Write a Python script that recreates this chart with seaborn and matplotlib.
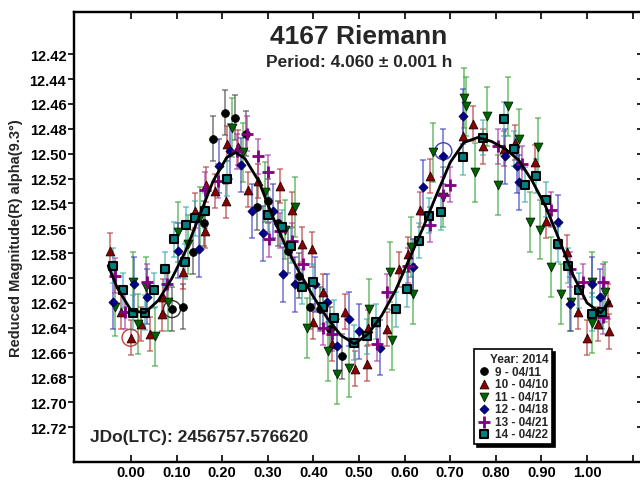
import numpy as np
import pandas as pd
import matplotlib
matplotlib.use("Agg")
import matplotlib.pyplot as plt
import seaborn as sns

sns.set_theme(style="ticks")
plt.rcParams["font.family"] = ["Liberation Sans", "DejaVu Sans"]
plt.rcParams["font.weight"] = "bold"
plt.rcParams["axes.labelweight"] = "bold"

# ---------------- data ----------------
sessions = ["9 - 04/11", "10 - 04/10", "11 - 04/17", "12 - 04/18", "13 - 04/21", "14 - 04/22"]

ph9 = [0.090, 0.113, 0.137, 0.160, 0.180, 0.207, 0.229, 0.253, 0.276, 0.300, 0.322, 0.345, 0.368, 0.393, 0.415, 0.437, 0.463]
mg9 = [12.625, 12.623, 12.579, 12.556, 12.488, 12.467, 12.471, 12.484, 12.543, 12.538, 12.556, 12.578, 12.598, 12.623, 12.625, 12.641, 12.663]

ph10 = [-0.045, -0.023, -0.001, 0.021, 0.042, 0.069, 0.071, 0.115, 0.141, 0.163, 0.165, 0.185, 0.209, 0.211, 0.235, 0.257, 0.279,
        0.327, 0.353, 0.376, 0.398, 0.400, 0.422, 0.441, 0.470, 0.492, 0.518, 0.520, 0.562, 0.587, 0.608, 0.634, 0.656,
        0.727, 0.749, 0.771, 0.817, 0.843, 0.887, 0.909, 0.957, 0.981, 1.000, 1.025, 1.047, 1.049]
mg10 = [12.578, 12.627, 12.648, 12.637, 12.645, 12.629, 12.615, 12.595, 12.546, 12.562, 12.525, 12.530, 12.538, 12.492, 12.495, 12.529, 12.522,
        12.526, 12.545, 12.573, 12.577, 12.635, 12.611, 12.653, 12.627, 12.673, 12.669, 12.640, 12.641, 12.593, 12.581, 12.545, 12.518,
        12.486, 12.476, 12.494, 12.496, 12.491, 12.507, 12.554, 12.579, 12.627, 12.648, 12.637, 12.619, 12.643]

ph11 = [-0.034, 0.005, 0.016, 0.032, 0.053, 0.082, 0.102, 0.124, 0.152, 0.222, 0.246, 0.294, 0.338, 0.360, 0.386,
        0.433, 0.452, 0.477, 0.521, 0.569, 0.573, 0.613, 0.619, 0.663, 0.685, 0.731, 0.735, 0.755, 0.781, 0.804,
        0.826, 0.850, 0.876, 0.893, 0.898, 0.922, 0.944, 0.966, 1.010, 1.012, 1.040]
mg11 = [12.623, 12.603, 12.637, 12.607, 12.647, 12.619, 12.563, 12.573, 12.551, 12.479, 12.499, 12.531, 12.561, 12.543, 12.640,
        12.659, 12.677, 12.672, 12.625, 12.595, 12.650, 12.575, 12.613, 12.499, 12.535, 12.455, 12.462, 12.515, 12.470, 12.525,
        12.462, 12.488, 12.555, 12.495, 12.561, 12.591, 12.613, 12.619, 12.603, 12.636, 12.611]

ph12 = [-0.039, 0.007, 0.036, 0.104, 0.150, 0.192, 0.218, 0.242, 0.266, 0.289, 0.312, 0.334, 0.360, 0.404, 0.430,
        0.452, 0.477, 0.499, 0.546, 0.619, 0.641, 0.685, 0.729, 0.821, 0.847, 0.850, 0.937, 0.963, 1.012, 1.029]
mg12 = [12.619, 12.605, 12.615, 12.578, 12.577, 12.510, 12.498, 12.509, 12.546, 12.564, 12.546, 12.597, 12.605, 12.605, 12.619,
        12.655, 12.633, 12.643, 12.656, 12.591, 12.527, 12.502, 12.470, 12.502, 12.510, 12.523, 12.555, 12.621, 12.605, 12.615]

ph13 = [-0.034, -0.013, 0.036, 0.080, 0.163, 0.190, 0.233, 0.255, 0.279, 0.301, 0.303, 0.327, 0.353, 0.378, 0.422,
        0.441, 0.540, 0.562, 0.608, 0.656, 0.685, 0.700, 0.804, 0.858, 0.920, 0.963, 0.992, 1.036, 1.034]
mg13 = [12.598, 12.627, 12.603, 12.605, 12.529, 12.522, 12.498, 12.484, 12.502, 12.515, 12.569, 12.562, 12.570, 12.589, 12.640,
        12.645, 12.653, 12.611, 12.590, 12.557, 12.533, 12.525, 12.494, 12.508, 12.545, 12.593, 12.603, 12.603, 12.631]

ph14 = [-0.040, -0.018, 0.005, 0.030, 0.051, 0.075, 0.095, 0.118, 0.120, 0.141, 0.163, 0.211, 0.301, 0.331, 0.351,
        0.376, 0.400, 0.420, 0.446, 0.490, 0.518, 0.538, 0.582, 0.606, 0.632, 0.654, 0.680, 0.727, 0.771, 0.819,
        0.839, 0.865, 0.889, 0.911, 0.937, 0.959, 0.983, 1.012, 1.032]
mg14 = [12.590, 12.610, 12.628, 12.628, 12.610, 12.593, 12.569, 12.587, 12.557, 12.552, 12.546, 12.520, 12.549, 12.559, 12.574,
        12.607, 12.603, 12.623, 12.632, 12.652, 12.647, 12.635, 12.625, 12.609, 12.570, 12.550, 12.547, 12.503, 12.487, 12.472,
        12.496, 12.525, 12.518, 12.537, 12.573, 12.590, 12.610, 12.629, 12.627]

errs = [0.018, 0.014, 0.024, 0.022, 0.014, 0.014]

curve_phase = [-0.05, -0.03, 0.00, 0.03, 0.06, 0.09, 0.12, 0.15, 0.18, 0.21, 0.23, 0.25, 0.28, 0.31, 0.34, 0.37, 0.40,
               0.43, 0.46, 0.49, 0.52, 0.55, 0.58, 0.61, 0.64, 0.67, 0.70, 0.73, 0.76, 0.79, 0.82, 0.85, 0.88, 0.91,
               0.94, 0.97, 1.00, 1.03, 1.05]
curve_mag = [12.590, 12.608, 12.626, 12.628, 12.618, 12.600, 12.578, 12.550, 12.522, 12.503, 12.499, 12.504, 12.522,
             12.550, 12.575, 12.596, 12.615, 12.632, 12.646, 12.653, 12.645, 12.630, 12.610, 12.585, 12.560, 12.533,
             12.507, 12.491, 12.487, 12.490, 12.496, 12.505, 12.522, 12.543, 12.570, 12.598, 12.620, 12.628, 12.619]

ring_phase = [-0.001, 0.090, 0.685]
ring_mag = [12.648, 12.625, 12.498]
ring_colors = ["#c04040", "#303030", "#4040c0"]

x_ticks = [0.0, 0.1, 0.2, 0.3, 0.4, 0.5, 0.6, 0.7, 0.8, 0.9, 1.0, 1.1]
x_labels = ["0.00", "0.10", "0.20", "0.30", "0.40", "0.50", "0.60", "0.70", "0.80", "0.90", "1.00", ""]
y_ticks = [12.42, 12.44, 12.46, 12.48, 12.50, 12.52, 12.54, 12.56, 12.58, 12.60, 12.62, 12.64, 12.66, 12.68, 12.70, 12.72]

# ---------------- styles ----------------
markers = ["o", "^", "v", "D", "+", "s"]
faces = ["black", "#8b0000", "#006400", "#00008b", "#800080", "#008080"]
edges = ["black", "#200000", "#002000", "#000040", "#800080", "black"]
bar_colors = ["#404040", "#b03030", "#30a030", "#3535c0", "#a030a0", "#30a8a8"]
sizes = [32, 40, 40, 22, 70, 40]
lws = [0.5, 0.6, 0.6, 0.5, 2.0, 1.5]

phases = [ph9, ph10, ph11, ph12, ph13, ph14]
mags = [mg9, mg10, mg11, mg12, mg13, mg14]
df = pd.concat([pd.DataFrame({"phase": p, "mag": m, "session": s, "err": e})
                for p, m, s, e in zip(phases, mags, sessions, errs)], ignore_index=True)

fig = plt.figure(figsize=(6.4, 4.81), dpi=100)
ax = fig.add_axes([74 / 640, 18 / 481, 570 / 640, 450 / 481])

for i, s in enumerate(sessions):
    sub = df[df["session"] == s]
    ax.errorbar(sub["phase"], sub["mag"], yerr=sub["err"], fmt="none", ecolor=bar_colors[i],
                alpha=0.6, elinewidth=1.3, capsize=2.5, capthick=1.2, zorder=2)

for i, s in enumerate(sessions):
    sub = df[df["session"] == s]
    if markers[i] == "+":
        sns.scatterplot(data=sub, x="phase", y="mag", marker="+", color=faces[i], s=sizes[i],
                        linewidth=lws[i], ax=ax, label=s, zorder=4)
    else:
        sns.scatterplot(data=sub, x="phase", y="mag", marker=markers[i], color=faces[i],
                        edgecolor=edges[i], s=sizes[i], linewidth=lws[i], ax=ax, label=s, zorder=4)

ax.scatter(ring_phase, ring_mag, s=150, facecolors="none", edgecolors=ring_colors, linewidths=1.0, zorder=3)

sns.lineplot(x=curve_phase, y=curve_mag, color="black", linewidth=2.0, sort=False, estimator=None,
             ax=ax, legend=False, zorder=5)

ax.set_xlim(-0.125, 1.125)
ax.set_ylim(12.748, 12.386)
ax.set_xticks(x_ticks)
ax.set_xticklabels(x_labels)
ax.set_yticks(y_ticks)
ax.set_yticklabels([f"{v:.2f}" for v in y_ticks])
ax.set_xlabel("")
ax.set_ylabel("Reduced Magnitude(R) alpha(9.3°)", fontsize=10.5, fontweight="bold")
ax.yaxis.set_label_coords(-0.089, 0.5)

ax.tick_params(axis="x", direction="in", top=True, bottom=True, length=5, width=1.2,
               labelsize=10.5, pad=2, colors="black")
ax.tick_params(axis="y", direction="out", left=True, right=False, length=4.5, width=1.2,
               labelsize=10.5, pad=1, colors="black")
for sp in ax.spines.values():
    sp.set_visible(True)
    sp.set_linewidth(1.6)
    sp.set_color("black")

ax2 = ax.twinx()
ax2.set_ylim(ax.get_ylim())
ax2.set_yticks(y_ticks)
ax2.tick_params(axis="y", direction="in", length=5, width=1.2, labelright=False, colors="black")
for sp in ax2.spines.values():
    sp.set_linewidth(1.6)
    sp.set_color("black")

ax.text(0.5, 0.947, "4167 Riemann", transform=ax.transAxes, ha="center", va="center",
        fontsize=19, fontweight="bold")
ax.text(0.5, 0.89, "Period: 4.060 ± 0.001 h", transform=ax.transAxes, ha="center", va="center",
        fontsize=12.5, fontweight="bold")
ax.text(0.028, 0.056, "JDo(LTC): 2456757.576620", transform=ax.transAxes, ha="left", va="center",
        fontsize=12.5, fontweight="bold")

leg = ax.legend(title="Year: 2014", loc="lower right", bbox_to_anchor=(0.839, 0.04),
                frameon=True, fancybox=False, shadow={"color": "black", "alpha": 1.0},
                prop={"size": 8.5, "weight": "bold"}, title_fontproperties={"size": 8.5, "weight": "bold"},
                labelspacing=0.05, handlelength=1.0, handletextpad=0.5, borderpad=0.3,
                borderaxespad=0.0, alignment="right", framealpha=1.0)
leg.get_frame().set_edgecolor("black")
leg.get_frame().set_linewidth(1.2)
leg.set_zorder(10)

fig.savefig("out.png", dpi=100)
